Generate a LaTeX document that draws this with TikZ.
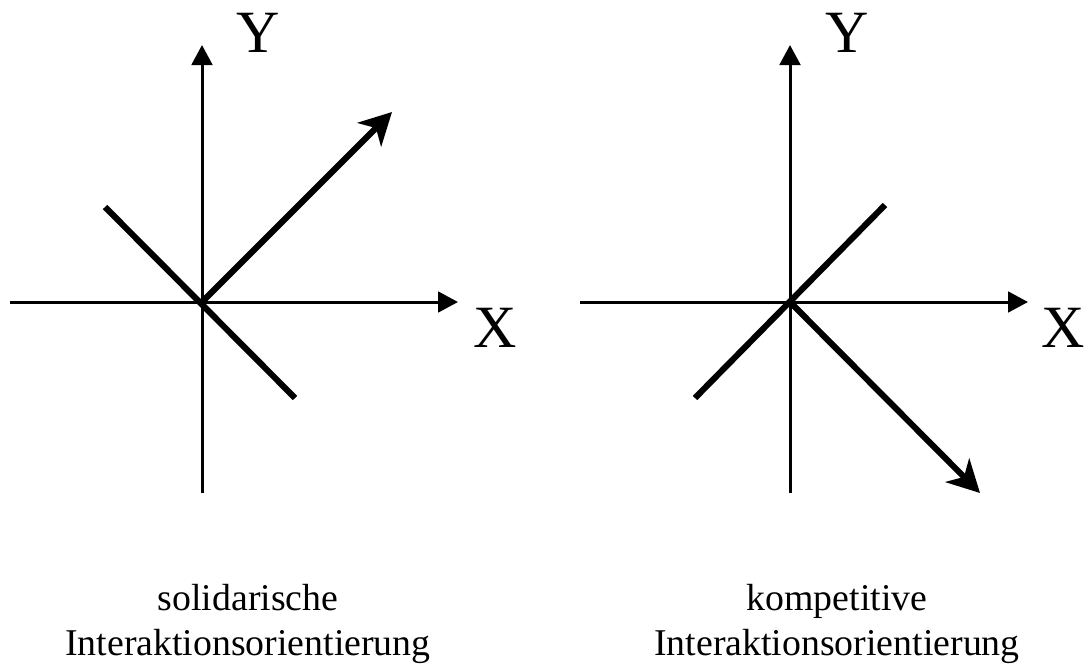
\documentclass[tikz,border=0pt]{standalone}
\usepackage{fontspec}
\setmainfont{Liberation Serif}
\usetikzlibrary{arrows.meta}
\begin{document}
\begin{tikzpicture}[x=0.75pt,y=-0.75pt,
  axis/.style={line width=2.25pt,-{Triangle[length=15pt,width=15.5pt]}},
  diag/.style={line width=4.6pt},
  diagarrow/.style={line width=4.6pt,-{Stealth[length=24pt,width=25pt,inset=7pt]}},
  axlabel/.style={font=\fontsize{45}{50}\selectfont,inner sep=0pt},
  caption/.style={font=\fontsize{28.35}{33.75}\selectfont,align=center,inner sep=0pt}]
\useasboundingbox (0,0) rectangle (1086,664);
% left diagram
\coordinate (lo) at (202,302);
\coordinate (lxs) at (10,302);
\coordinate (lxe) at (458,302);
\coordinate (lys) at (202,493);
\coordinate (lye) at (202,45);
\coordinate (lds) at (105,207);
\coordinate (lde) at (295,398);
\coordinate (lae) at (392,112);
\draw[axis] (lxs) -- (lxe);
\draw[axis] (lys) -- (lye);
\draw[diag] (lds) -- (lde);
\draw[diagarrow] (lo) -- (lae);
\node[axlabel] (ly) at (258,33) {Y};
\node[axlabel] (lx) at (495,328) {X};
\node[caption] (lc) at (248,623.5) {solidarische\\Interaktionsorientierung};
% right diagram
\coordinate (ro) at (790,302);
\coordinate (rxs) at (580,302);
\coordinate (rxe) at (1028,302);
\coordinate (rys) at (790,493);
\coordinate (rye) at (790,45);
\coordinate (rds) at (695,398);
\coordinate (rde) at (885,205);
\coordinate (rae) at (980,493);
\draw[axis] (rxs) -- (rxe);
\draw[axis] (rys) -- (rye);
\draw[diag] (rds) -- (rde);
\draw[diagarrow] (ro) -- (rae);
\node[axlabel] (ry) at (847,33) {Y};
\node[axlabel] (rx) at (1063,328) {X};
\node[caption] (rc) at (837,623.5) {kompetitive\\Interaktionsorientierung};
\end{tikzpicture}
\end{document}
